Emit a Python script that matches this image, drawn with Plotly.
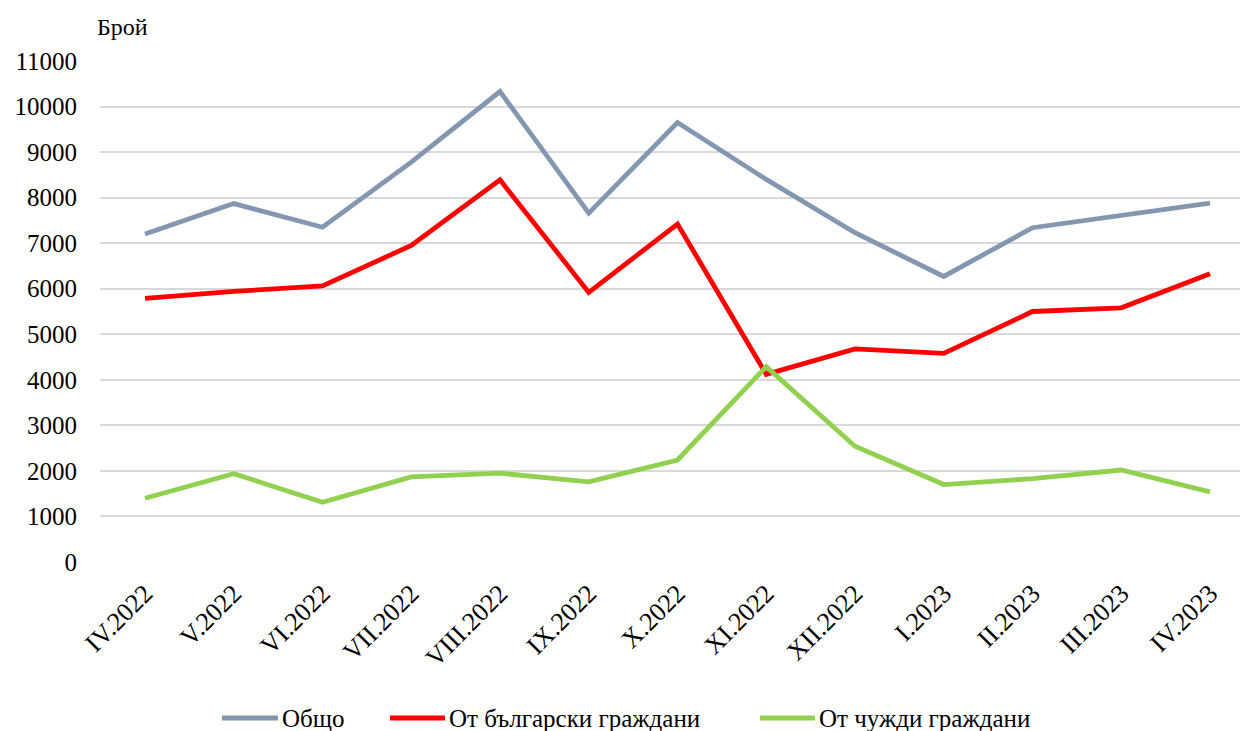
import plotly.graph_objects as go

months = ["IV.2022", "V.2022", "VI.2022", "VII.2022", "VIII.2022", "IX.2022", "X.2022",
          "XI.2022", "XII.2022", "I.2023", "II.2023", "III.2023", "IV.2023"]
total = [7200, 7870, 7350, 8780, 10330, 7660, 9650, 8400, 7230, 6270, 7340, 7610, 7880]
bulgarian = [5790, 5940, 6060, 6950, 8390, 5920, 7420, 4120, 4680, 4580, 5500, 5580, 6330]
foreign = [1400, 1940, 1310, 1870, 1950, 1760, 2240, 4290, 2540, 1700, 1830, 2020, 1540]

names = ["Общо", "От български граждани", "От чужди граждани"]
colors = ["#8497B0", "#FF0000", "#92D050"]

FONT = "Liberation Serif"
W, H = 1242, 731
ML, MR, MT, MB = 100, 2, 61, 169
PW, PH = W - ML - MR, H - MT - MB


def px_x(p):
    return (p - ML) / PW


def px_y(p):
    return (H - MB - p) / PH


fig = go.Figure()
for name, vals, col in zip(names, [total, bulgarian, foreign], colors):
    fig.add_trace(go.Scatter(x=months, y=vals, mode="lines", name=name,
                             line=dict(color=col, width=4.8), showlegend=False))

# custom legend (line key + label), laid out like the original
legend_keys = [(222, 278), (390, 445), (760, 815)]
legend_y = 718
shapes, annotations = [], []
for (x0, x1), name, col in zip(legend_keys, names, colors):
    shapes.append(dict(type="line", xref="paper", yref="paper",
                       x0=px_x(x0), x1=px_x(x1), y0=px_y(legend_y), y1=px_y(legend_y),
                       line=dict(color=col, width=5)))
    annotations.append(dict(text=name, xref="paper", yref="paper", x=px_x(x1 + 2), y=px_y(legend_y),
                            xanchor="left", yanchor="middle", showarrow=False,
                            font=dict(family=FONT, size=25)))

annotations.append(dict(text="Брой", xref="paper", yref="paper", x=px_x(122), y=px_y(27),
                        xanchor="center", yanchor="middle", showarrow=False,
                        font=dict(family=FONT, size=24)))

fig.update_layout(
    width=W, height=H,
    margin=dict(l=ML, r=MR, t=MT, b=MB, autoexpand=False),
    paper_bgcolor="white", plot_bgcolor="white",
    font=dict(family=FONT, size=24, color="black"),
    showlegend=False,
    xaxis=dict(type="category", range=[-0.507, 12.338], tickangle=-45, automargin=False,
               showgrid=False, zeroline=False, showline=False, ticks="", ticklabelstandoff=10,
               tickfont=dict(family=FONT, size=26)),
    yaxis=dict(range=[0, 11000], dtick=1000, showgrid=True, gridcolor="#D9D9D9", gridwidth=1.5,
               zeroline=False, showline=False, ticks="", ticklabelstandoff=22, automargin=False,
               tickformat="d", tickfont=dict(family=FONT, size=25)),
    shapes=shapes,
    annotations=annotations,
)

fig.write_html("out.html", config={"displayModeBar": False},
               post_script="document.body.style.margin='0px';document.body.style.padding='0px';")
